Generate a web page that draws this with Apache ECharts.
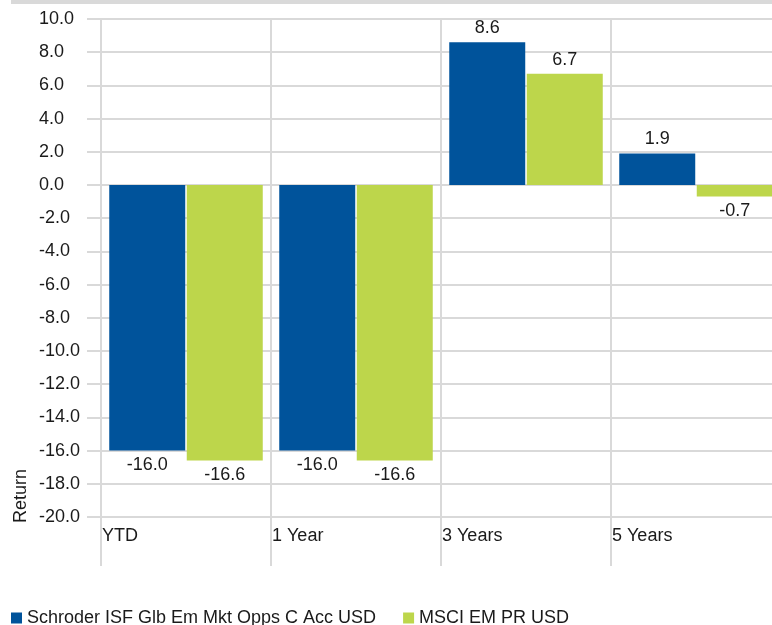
<!DOCTYPE html>
<html>
<head>
<meta charset="utf-8">
<script src="https://cdn.jsdelivr.net/npm/echarts@6/dist/echarts.min.js"></script>
<style>
  html, body { margin: 0; padding: 0; background: #fff; }
  #main { width: 772px; height: 625px; }
</style>
</head>
<body>
<div id="main"></div>
<script>
// 数据
var categories = ['YTD', '1 Year', '3 Years', '5 Years'];
var fundName = 'Schroder ISF Glb Em Mkt Opps C Acc USD';
var indexName = 'MSCI EM PR USD';
var fundData = [-16.0, -16.0, 8.6, 1.9];
var indexData = [-16.6, -16.6, 6.7, -0.7];

var gridColor = '#d9d9d9';
var textColor = '#1a1a1a';

var myChart = echarts.init(document.getElementById('main'));

var option = {
  animation: false,
  textStyle: { fontFamily: 'Liberation Sans, Arial, sans-serif' },
  graphic: [
    // 顶部灰条
    { type: 'rect', shape: { x: 11, y: 0, width: 761, height: 4 }, style: { fill: gridColor } },
    {
      type: 'text',
      x: 30,
      y: 523,
      rotation: Math.PI / 2,
      style: {
        text: 'Return',
        fill: textColor,
        font: '18px "Liberation Sans", Arial, sans-serif',
        textAlign: 'left',
        textVerticalAlign: 'bottom'
      }
    }
  ],
  // 最右侧分隔线超出画布
  grid: { left: 101, top: 19, bottom: 108, width: 680, containLabel: false, outerBoundsMode: 'none' },
  legend: {
    data: [fundName, indexName],
    left: 11,
    top: 609,
    padding: 0,
    icon: 'rect',
    itemWidth: 11,
    itemHeight: 11,
    itemGap: 27,
    textStyle: { fontSize: 18, color: textColor }
  },
  xAxis: {
    type: 'category',
    data: categories,
    boundaryGap: true,
    axisLine: { show: false, onZero: false },
    axisTick: { show: true, alignWithLabel: false, length: 49, lineStyle: { color: gridColor, width: 2 } },
    splitLine: { show: true, lineStyle: { color: gridColor, width: 2 } },
    axisLabel: {
      margin: 10,
      color: textColor,
      fontSize: 18,
      formatter: function (val) {
        return '{a|' + val + '}';
      },
      rich: {
        a: { width: 168, align: 'left', fontSize: 18, color: textColor }
      }
    }
  },
  yAxis: {
    type: 'value',
    min: -20,
    max: 10,
    interval: 2,
    axisLine: { show: false },
    axisTick: { show: true, length: 14, lineStyle: { color: gridColor, width: 2 } },
    splitLine: { show: true, lineStyle: { color: gridColor, width: 2 } },
    axisLabel: {
      align: 'left',
      margin: 62,
      color: textColor,
      fontSize: 18,
      formatter: function (v) {
        return v.toFixed(1);
      }
    }
  },
  series: [
    {
      name: fundName,
      type: 'bar',
      data: fundData,
      barWidth: 76,
      barGap: '2%',
      itemStyle: { color: '#00539b' },
      label: {
        show: true,
        position: 'outside',
        distance: 5,
        color: textColor,
        fontSize: 18,
        formatter: function (p) {
          return p.value.toFixed(1);
        }
      }
    },
    {
      name: indexName,
      type: 'bar',
      data: indexData,
      barWidth: 76,
      barGap: '2%',
      itemStyle: { color: '#bdd64b' },
      label: {
        show: true,
        position: 'outside',
        distance: 5,
        color: textColor,
        fontSize: 18,
        formatter: function (p) {
          return p.value.toFixed(1);
        }
      }
    }
  ]
};

myChart.setOption(option, true);
</script>
</body>
</html>
